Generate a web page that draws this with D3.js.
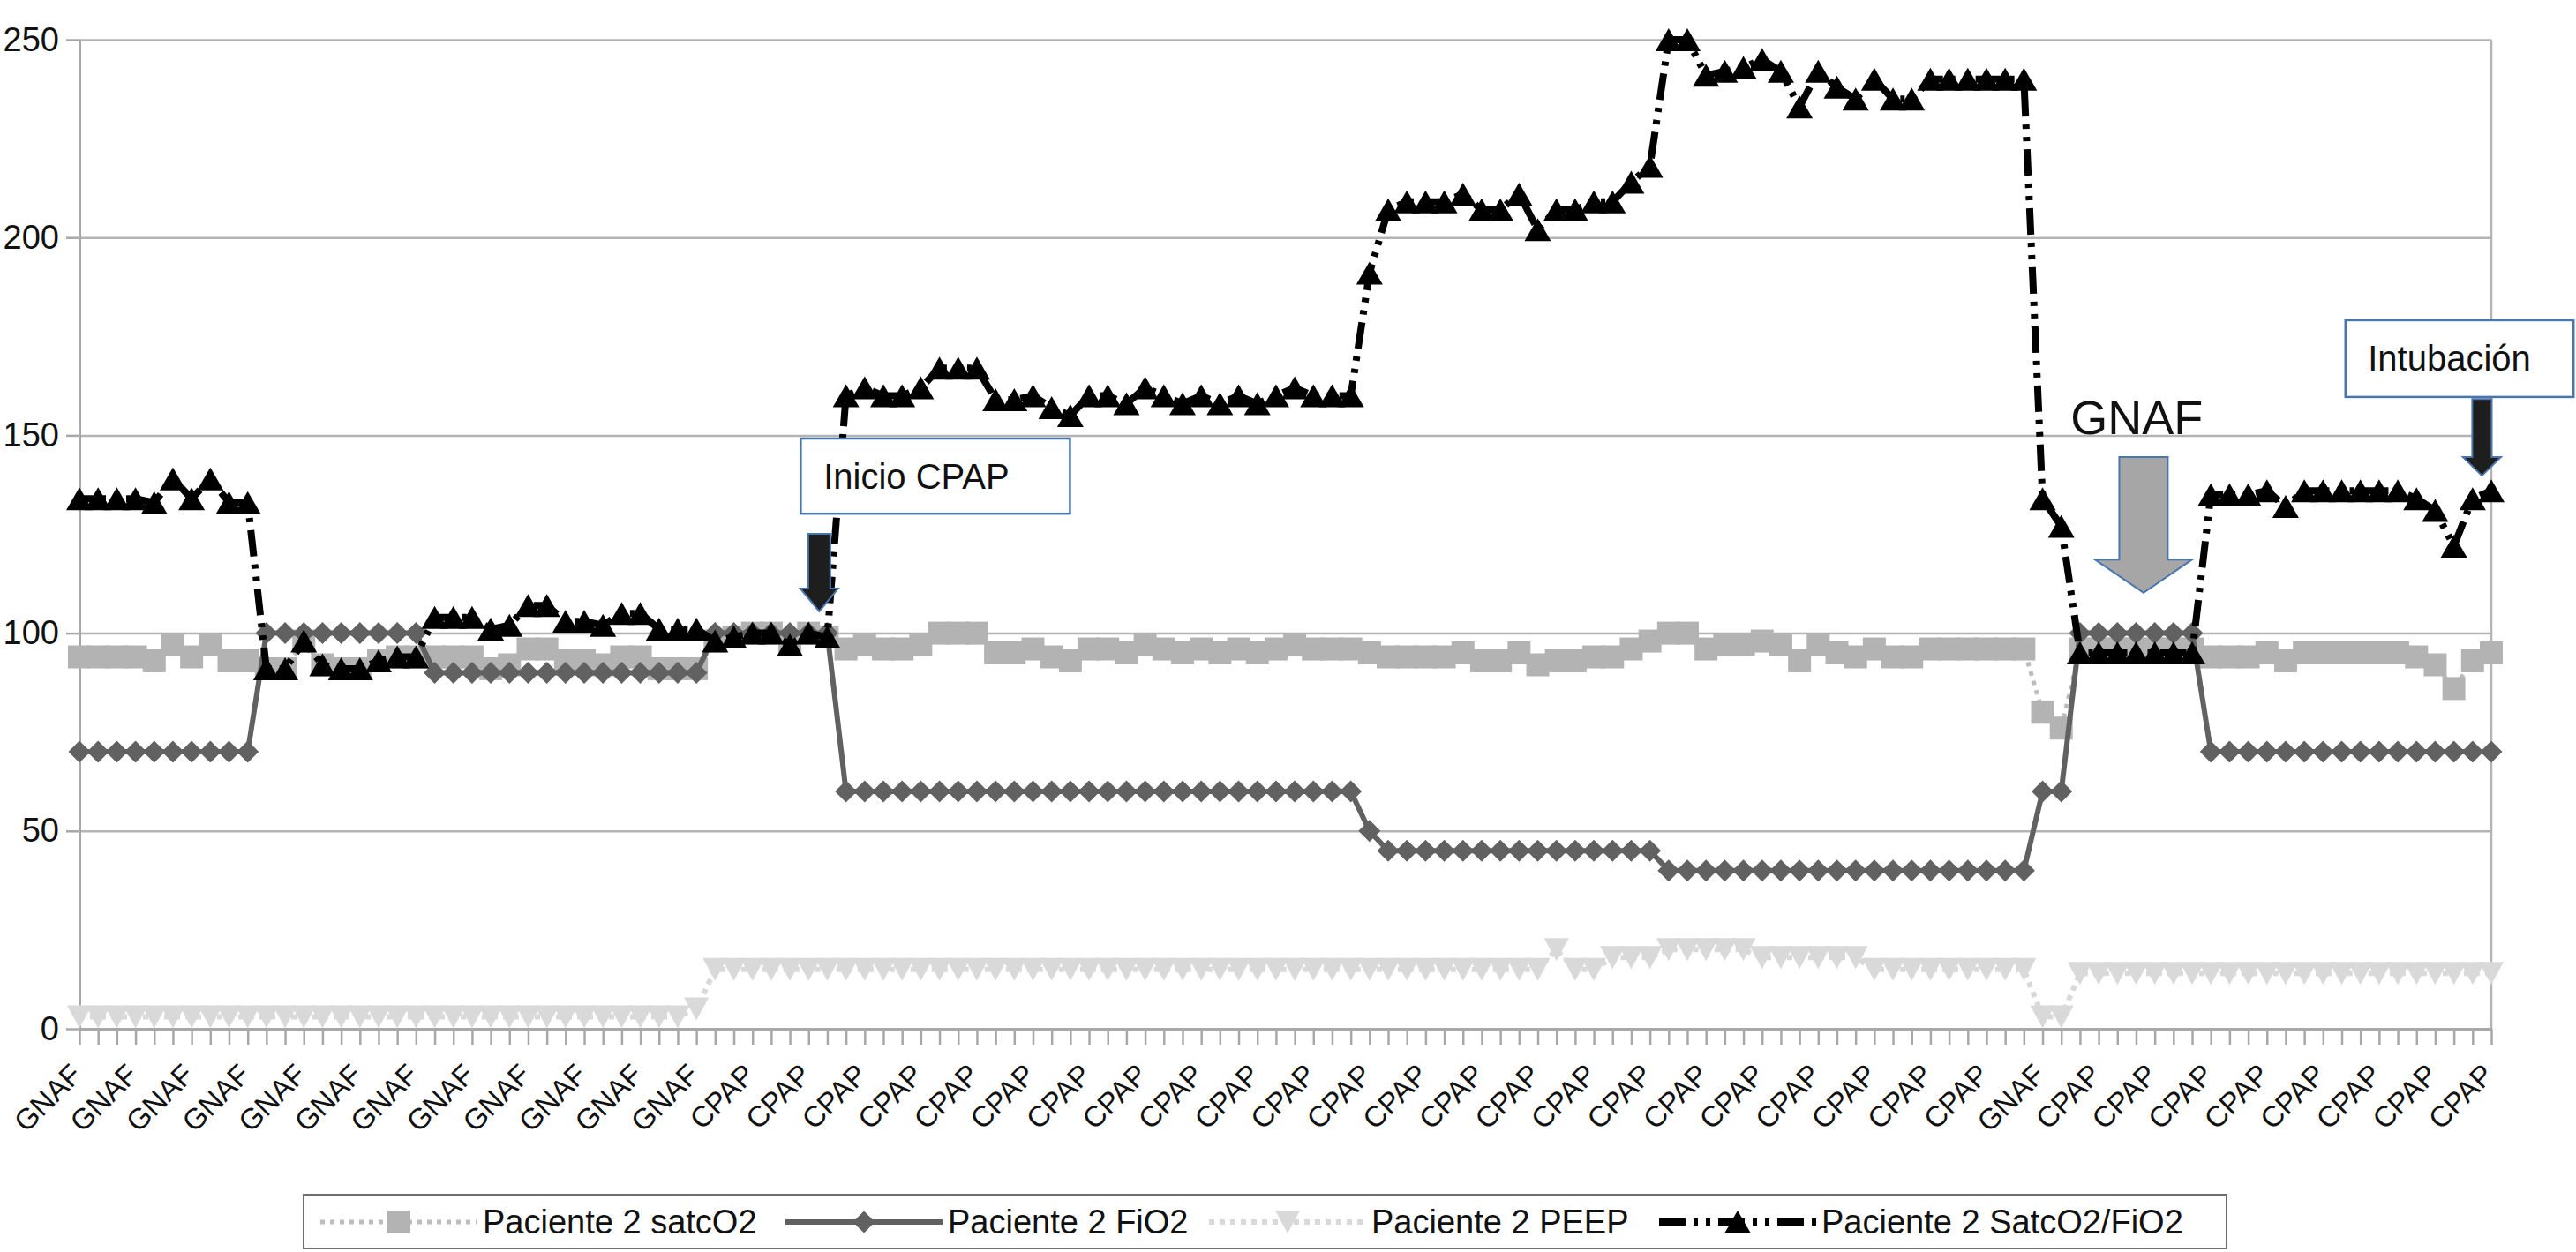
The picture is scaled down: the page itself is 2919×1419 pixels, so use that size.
<!DOCTYPE html>
<html><head><meta charset="utf-8">
<script src="https://cdn.jsdelivr.net/npm/d3@7"></script>
<style>body{margin:0;background:#fff} svg{display:block} text{font-family:"Liberation Sans",Arial,sans-serif}</style>
</head><body>
<svg id="chart" width="2919" height="1419"></svg>
<script>
const categories = [
 "GNAF","GNAF","GNAF","GNAF","GNAF","GNAF","GNAF","GNAF","GNAF","GNAF",
 "GNAF","GNAF","GNAF","GNAF","GNAF","GNAF","GNAF","GNAF","GNAF","GNAF",
 "GNAF","GNAF","GNAF","GNAF","GNAF","GNAF","GNAF","GNAF","GNAF","GNAF",
 "GNAF","GNAF","GNAF","GNAF","CPAP","CPAP","CPAP","CPAP","CPAP","CPAP",
 "CPAP","CPAP","CPAP","CPAP","CPAP","CPAP","CPAP","CPAP","CPAP","CPAP",
 "CPAP","CPAP","CPAP","CPAP","CPAP","CPAP","CPAP","CPAP","CPAP","CPAP",
 "CPAP","CPAP","CPAP","CPAP","CPAP","CPAP","CPAP","CPAP","CPAP","CPAP",
 "CPAP","CPAP","CPAP","CPAP","CPAP","CPAP","CPAP","CPAP","CPAP","CPAP",
 "CPAP","CPAP","CPAP","CPAP","CPAP","CPAP","CPAP","CPAP","CPAP","CPAP",
 "CPAP","CPAP","CPAP","CPAP","CPAP","CPAP","CPAP","CPAP","CPAP","CPAP",
 "CPAP","CPAP","CPAP","CPAP","CPAP","GNAF","GNAF","CPAP","CPAP","CPAP",
 "CPAP","CPAP","CPAP","CPAP","CPAP","CPAP","CPAP","CPAP","CPAP","CPAP",
 "CPAP","CPAP","CPAP","CPAP","CPAP","CPAP","CPAP","CPAP","CPAP","CPAP"
];
const satcO2 = [
 94,94,94,94,93,97,94,97,93,93,
 91,91,98,92,91,91,93,94,94,94,
 94,94,91,92,96,96,93,93,92,94,
 94,91,91,91,98,99,100,100,97,100,
 99,96,97,96,96,97,100,100,100,95,
 95,96,94,93,96,96,95,97,96,95,
 96,95,96,95,96,97,96,96,96,95,
 94,94,94,94,95,93,93,95,92,93,
 93,94,94,96,98,100,100,96,97,97,
 98,97,93,97,95,94,96,94,94,96,
 96,96,96,96,96,80,76,96,96,96,
 96,96,96,96,94,94,94,95,93,95,
 95,95,95,95,95,94,92,86,93,95
];
const fiO2 = [
 70,70,70,70,70,70,70,70,70,70,
 100,100,100,100,100,100,100,100,100,90,
 90,90,90,90,90,90,90,90,90,90,
 90,90,90,90,100,100,100,100,100,100,
 100,60,60,60,60,60,60,60,60,60,
 60,60,60,60,60,60,60,60,60,60,
 60,60,60,60,60,60,60,60,60,50,
 45,45,45,45,45,45,45,45,45,45,
 45,45,45,45,45,40,40,40,40,40,
 40,40,40,40,40,40,40,40,40,40,
 40,40,40,40,40,60,60,100,100,100,
 100,100,100,100,70,70,70,70,70,70,
 70,70,70,70,70,70,70,70,70,70
];
const peep = [
 3,3,3,3,3,3,3,3,3,3,
 3,3,3,3,3,3,3,3,3,3,
 3,3,3,3,3,3,3,3,3,3,
 3,3,3,5,15,15,15,15,15,15,
 15,15,15,15,15,15,15,15,15,15,
 15,15,15,15,15,15,15,15,15,15,
 15,15,15,15,15,15,15,15,15,15,
 15,15,15,15,15,15,15,15,15,20,
 15,15,18,18,18,20,20,20,20,20,
 18,18,18,18,18,18,15,15,15,15,
 15,15,15,15,15,3,3,14,14,14,
 14,14,14,14,14,14,14,14,14,14,
 14,14,14,14,14,14,14,14,14,14
];
const ratio = [
 134,134,134,134,133,139,134,139,133,133,
 91,91,98,92,91,91,93,94,94,104,
 104,104,101,102,107,107,103,103,102,105,
 105,101,101,101,98,99,100,100,97,100,
 99,160,162,160,160,162,167,167,167,159,
 159,160,157,155,160,160,158,162,160,158,
 160,158,160,158,160,162,160,160,160,191,
 207,209,209,209,211,207,207,211,202,207,
 207,209,209,214,218,250,250,241,242,243,
 245,242,233,242,238,235,240,235,235,240,
 240,240,240,240,240,134,127,95,95,95,
 95,95,95,95,135,135,135,136,132,136,
 136,136,136,136,136,134,131,122,134,136
];
const yTicks = [0,50,100,150,200,250];
const seriesNames = ["Paciente 2 satcO2","Paciente 2 FiO2","Paciente 2 PEEP","Paciente 2 SatcO2/FiO2"];

const W = 2919, H = 1419;
const L = 90, R = 2823, T = 45, B = 1166;
const svg = d3.select('#chart');
svg.append('rect').attr('width', W).attr('height', H).attr('fill', '#fff');

const x = d3.scalePoint().domain(d3.range(categories.length)).range([L, R]);
const y = d3.scaleLinear().domain([0, 250]).range([B, T]);

// gridlines
svg.append('g').attr('transform', `translate(${L},0)`)
  .call(d3.axisLeft(y).tickValues(yTicks.filter(t => t > 0)).tickSize(-(R - L)).tickFormat(''))
  .call(g => g.select('.domain').remove())
  .call(g => g.selectAll('line').attr('stroke', '#b4b4b4').attr('stroke-width', 2.5));

// y axis
const yAx = svg.append('g').attr('transform', `translate(${L},0)`)
  .call(d3.axisLeft(y).tickValues(yTicks).tickSizeInner(15).tickSizeOuter(0).tickPadding(8));
yAx.select('.domain').attr('stroke', '#a8a8a8').attr('stroke-width', 3);
yAx.selectAll('line').attr('stroke', '#a8a8a8').attr('stroke-width', 2.5);
yAx.selectAll('text').attr('font-size', 38).attr('fill', '#111')
  .attr('font-family', '"Liberation Sans",Arial,sans-serif');

// right border
svg.append('line').attr('x1', R).attr('x2', R).attr('y1', y(250)).attr('y2', y(0))
  .attr('stroke', '#b4b4b4').attr('stroke-width', 2.5);

// x axis
const xAx = svg.append('g').attr('transform', `translate(0,${B})`)
  .call(d3.axisBottom(x).tickSizeInner(18).tickSizeOuter(0)
    .tickFormat(i => (i % 3 === 0 ? categories[i] : '')));
xAx.select('.domain').attr('stroke', '#a8a8a8').attr('stroke-width', 3);
xAx.selectAll('line').attr('stroke', '#a8a8a8').attr('stroke-width', 2.5);
xAx.selectAll('text').attr('font-size', 33).attr('fill', '#111')
  .attr('text-anchor', 'end').attr('dy', 0).attr('y', 0)
  .attr('transform', 'translate(4,54) rotate(-45)')
  .attr('font-family', '"Liberation Sans",Arial,sans-serif');

// marker shapes
const shapes = {
  square: { draw(c) { c.moveTo(-13, -13); c.lineTo(13, -13); c.lineTo(13, 13); c.lineTo(-13, 13); c.closePath(); } },
  diamond: { draw(c) { c.moveTo(0, -12.5); c.lineTo(12.5, 0); c.lineTo(0, 12.5); c.lineTo(-12.5, 0); c.closePath(); } },
  triUp: { draw(c) { c.moveTo(0, -13); c.lineTo(15, 13); c.lineTo(-15, 13); c.closePath(); } },
  triDown: { draw(c) { c.moveTo(-14, -13); c.lineTo(14, -13); c.lineTo(0, 13); c.closePath(); } }
};

const series = [
  { name: seriesNames[0], values: satcO2, color: '#b3b3b3', lineColor: '#bdbdbd', width: 5, dash: '5,6', shape: 'square' },
  { name: seriesNames[1], values: fiO2, color: '#616161', lineColor: '#616161', width: 6, dash: null, shape: 'diamond' },
  { name: seriesNames[2], values: peep, color: '#d9d9d9', lineColor: '#d9d9d9', width: 6, dash: '6,6', shape: 'triDown' },
  { name: seriesNames[3], values: ratio, color: '#000', lineColor: '#000', width: 8, dash: '30,9,5,9,5,9', shape: 'triUp' }
];

const line = d3.line().x((d, i) => x(i)).y(d => y(d));
series.forEach(s => {
  const g = svg.append('g');
  g.append('path').datum(s.values).attr('d', line).attr('fill', 'none')
    .attr('stroke', s.lineColor).attr('stroke-width', s.width)
    .attr('stroke-dasharray', s.dash).attr('stroke-linejoin', 'round');
  g.selectAll('path.m').data(s.values).join('path').attr('class', 'm')
    .attr('d', d3.symbol().type(shapes[s.shape]))
    .attr('transform', (d, i) => `translate(${x(i)},${y(d)})`)
    .attr('fill', s.color);
});

// annotations (positions in data units: category index, value)
const ax = i => L + (R - L) * i / (categories.length - 1);
// Inicio CPAP box + arrow
const box1 = { i0: 38.58, i1: 52.98, v0: 149.2, v1: 130.2 };
svg.append('rect').attr('x', ax(box1.i0)).attr('y', y(box1.v0))
  .attr('width', ax(box1.i1) - ax(box1.i0)).attr('height', y(box1.v1) - y(box1.v0))
  .attr('fill', '#fff').attr('stroke', '#4a76b0').attr('stroke-width', 2.5);
svg.append('text').attr('x', ax(39.8)).attr('y', (y(box1.v0) + y(box1.v1)) / 2 + 14)
  .attr('font-size', 40).attr('fill', '#111').text('Inicio CPAP');

function blockArrow(cx, shaftHalf, headHalf, top, headTop, tip, fill) {
  const p = d3.path();
  p.moveTo(cx - shaftHalf, top); p.lineTo(cx + shaftHalf, top); p.lineTo(cx + shaftHalf, headTop);
  p.lineTo(cx + headHalf, headTop); p.lineTo(cx, tip); p.lineTo(cx - headHalf, headTop);
  p.lineTo(cx - shaftHalf, headTop); p.closePath();
  svg.append('path').attr('d', p.toString()).attr('fill', fill).attr('stroke', '#4a76b0').attr('stroke-width', 2);
}
blockArrow(ax(39.57), 12.5, 21.5, y(125.1), y(111.3), y(105.5), '#1e1e1e');

// GNAF label + gray arrow
svg.append('text').attr('x', ax(106.5)).attr('y', y(150.3)).attr('font-size', 54).attr('fill', '#111').text('GNAF');
blockArrow(ax(110.4), 27.5, 55, y(144.5), y(118.6), y(110.2), '#a6a6a6');

// Intubación box + arrow
const box2 = { i0: 121.2, i1: 133.4, v0: 179.1, v1: 159.7 };
svg.append('rect').attr('x', ax(box2.i0)).attr('y', y(box2.v0))
  .attr('width', ax(box2.i1) - ax(box2.i0)).attr('height', y(box2.v1) - y(box2.v0))
  .attr('fill', '#fff').attr('stroke', '#4a76b0').attr('stroke-width', 2.5);
svg.append('text').attr('x', ax(122.4)).attr('y', (y(box2.v0) + y(box2.v1)) / 2 + 14)
  .attr('font-size', 40).attr('fill', '#111').text('Intubación');
blockArrow(ax(128.5), 11, 21.5, y(159.2), y(144.5), y(139.8), '#1e1e1e');

// legend
const leg = svg.append('g');
leg.append('rect').attr('x', 344).attr('y', 1354).attr('width', 2179).attr('height', 61)
  .attr('fill', '#fff').attr('stroke', '#6f6f6f').attr('stroke-width', 2);
const legX = [363, 890, 1370, 1880];
series.forEach((s, k) => {
  const x0 = legX[k], cy = 1385, len = 178;
  leg.append('line').attr('x1', x0).attr('x2', x0 + len).attr('y1', cy).attr('y2', cy)
    .attr('stroke', s.lineColor).attr('stroke-width', s.width).attr('stroke-dasharray', s.dash);
  leg.append('path').attr('d', d3.symbol().type(shapes[s.shape])).attr('transform', `translate(${x0 + len / 2},${cy})`)
    .attr('fill', s.color);
  leg.append('text').attr('x', x0 + len + 6).attr('y', cy + 13).attr('font-size', 38).attr('fill', '#111').text(s.name);
});
</script>
</body></html>
